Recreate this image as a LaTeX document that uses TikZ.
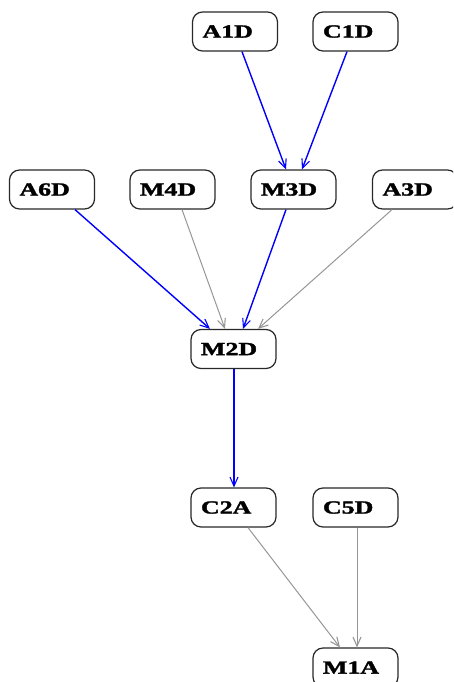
\documentclass[tikz,border=0pt]{standalone}
\usepackage{fontspec}
\setmainfont{Liberation Serif}
\newfontfamily\lblfont[FakeBold=1.6]{Liberation Serif Bold}
\usetikzlibrary{arrows.meta}
\definecolor{edgeblue}{RGB}{0,0,255}
\definecolor{edgegray}{RGB}{150,150,150}
\definecolor{boxline}{RGB}{40,40,40}
\newcommand{\lbl}[1]{\scalebox{1.4}[1]{\fontsize{18.5}{18.5}\lblfont #1}}
\tikzset{
  var/.style={draw=boxline, line width=1.2pt, rounded corners=10pt, fill=white,
    minimum width=85pt, minimum height=39pt, text width=65pt, align=left,
    inner xsep=10pt, inner ysep=0pt},
  link/.style={line width=1.4pt, -{Straight Barb[length=9pt,width=8pt,line width=1.1pt]}},
  strong/.style={link, draw=edgeblue},
  weak/.style={link, draw=edgegray, line width=1pt},
}
\begin{document}
\begin{tikzpicture}[x=1pt,y=-1pt]
  \useasboundingbox (0,0) rectangle (453,682);
  \begin{scope}
  \clip (0,0) rectangle (453,682);
  % nodes
  \node[var] (A1D) at (235,31.5) {\lbl{A1D}};
  \node[var] (C1D) at (355.5,31.5) {\lbl{C1D}};
  \node[var] (A6D) at (52,189.5) {\lbl{A6D}};
  \node[var] (M4D) at (172.5,189.5) {\lbl{M4D}};
  \node[var] (M3D) at (293.5,189.5) {\lbl{M3D}};
  \node[var] (A3D) at (415,189.5) {\lbl{A3D}};
  \node[var] (M2D) at (233.5,349) {\lbl{M2D}};
  \node[var] (C2A) at (233.5,507.5) {\lbl{C2A}};
  \node[var] (C5D) at (355.5,507.5) {\lbl{C5D}};
  \node[var] (M1A) at (355.5,667.5) {\lbl{M1A}};
  % connectors
  \draw[strong] ([xshift=7pt]A1D.south) -- ([xshift=-7.5pt]M3D.north);
  \draw[strong] ([xshift=-8.5pt]C1D.south) -- ([xshift=8.5pt]M3D.north);
  \draw[strong] ([xshift=23pt]A6D.south) -- ([xshift=-23.5pt]M2D.north);
  \draw[weak] ([xshift=9.5pt]M4D.south) -- ([xshift=-8.5pt]M2D.north);
  \draw[strong] ([xshift=-7.5pt]M3D.south) -- ([xshift=9.5pt]M2D.north);
  \draw[weak] ([xshift=-23pt]A3D.south) -- ([xshift=24.5pt]M2D.north);
  \draw[strong] ([xshift=0.5pt]M2D.south) -- ([xshift=0.5pt]C2A.north);
  \draw[weak] ([xshift=14.5pt]C2A.south) -- ([xshift=-15.5pt]M1A.north);
  \draw[weak] ([xshift=1.5pt]C5D.south) -- ([xshift=1.5pt]M1A.north);
  \end{scope}
\end{tikzpicture}
\end{document}
